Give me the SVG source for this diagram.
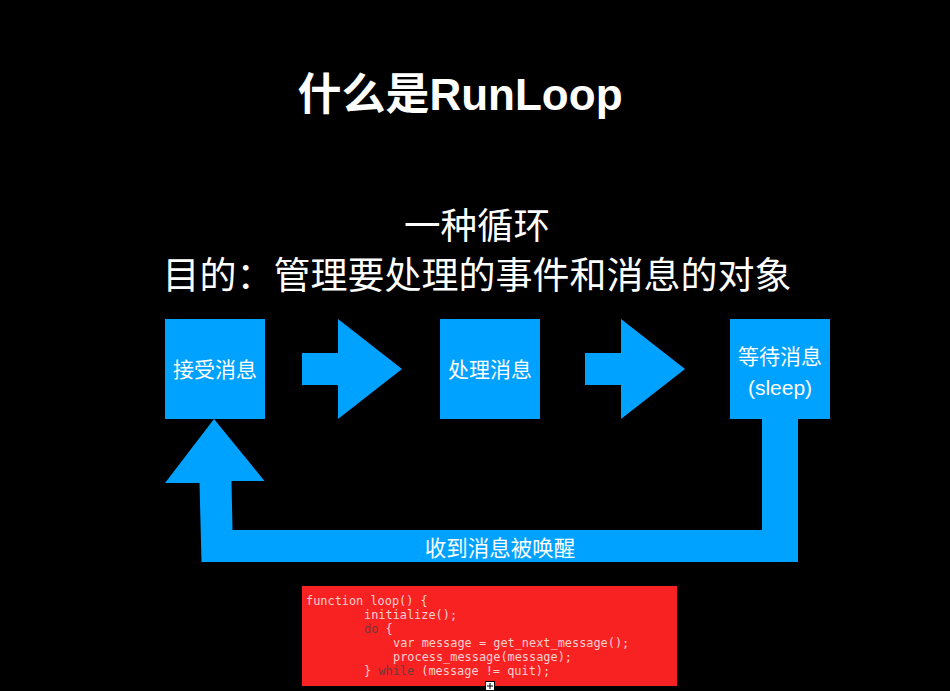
<svg xmlns="http://www.w3.org/2000/svg" width="950" height="691" viewBox="0 0 950 691">
<style>
.bg{fill:#000}
.blue{fill:#00A2FF}
.w{fill:#fff;font-family:"Liberation Sans","Noto Sans CJK SC",sans-serif}
.t{font-size:21px;text-anchor:middle}
.code{font-family:"DejaVu Sans Mono",monospace;font-size:11.9px;fill:#fbd0d0;white-space:pre}
.kw{fill:#6b3a3a}
</style>
<rect class="bg" x="0" y="0" width="950" height="691"/>
<g id="title">
<text class="w" x="460" y="110" font-size="44" font-weight="bold" text-anchor="middle">什么是RunLoop</text>
</g>
<g id="subtitle">
<text class="w" x="477" y="239" font-size="36.5" text-anchor="middle">一种循环</text>
<text class="w" x="477" y="289" font-size="37" text-anchor="middle">目的：管理要处理的事件和消息的对象</text>
</g>
<g id="node-receive">
<rect class="blue" x="165" y="319" width="100" height="100"/>
<text class="w t" x="215" y="377">接受消息</text>
</g>
<g id="node-process">
<rect class="blue" x="440" y="319" width="100" height="100"/>
<text class="w t" x="490" y="377">处理消息</text>
</g>
<g id="node-wait">
<rect class="blue" x="730" y="319" width="100" height="100"/>
<text class="w t" x="780" y="364">等待消息</text>
<text class="w t" x="780" y="395">(sleep)</text>
</g>
<g id="connectors">
<polygon class="blue" points="302,353 338,353 338,319 402,369 338,419 338,385 302,385"/>
<polygon class="blue" points="585,353 621,353 621,319 685,369 621,419 621,385 585,385"/>
<polygon class="blue" points="214,419 264.5,481 231.5,481 232.5,530 762,530 762,419 798,419 798,562 201.5,562 199.5,483 165,483"/>
<text class="w" x="500" y="556" font-size="21.5" text-anchor="middle">收到消息被唤醒</text>
</g>
<g id="code">
<rect x="302" y="586" width="375" height="100" fill="#F82222"/>
<text class="code" x="306" y="605">function loop() {</text>
<text class="code" x="364" y="619">initialize();</text>
<text class="code" x="364" y="633"><tspan class="kw">do</tspan> {</text>
<text class="code" x="393" y="647">var message = get_next_message();</text>
<text class="code" x="393" y="661">process_message(message);</text>
<text class="code" x="364" y="675">} <tspan class="kw">while</tspan> (message != quit);</text>
</g>
<g id="cursor">
<rect x="485.5" y="681.5" width="9" height="9" fill="#fff" stroke="#000"/>
<path d="M490 683v6M487 686h6" stroke="#000" stroke-width="1"/>
</g>
</svg>
